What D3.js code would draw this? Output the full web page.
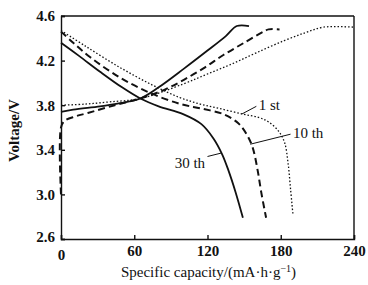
<!DOCTYPE html>
<html>
<head>
<meta charset="utf-8">
<script src="https://cdn.jsdelivr.net/npm/d3@7"></script>
<style>
body { margin: 0; background: #fff; }
svg text { font-family: "Liberation Serif", "DejaVu Serif", serif; }
</style>
</head>
<body>
<div id="chart"></div>
<script>
var xTicks = [0, 60, 120, 180, 240];
var yTicks = [2.6, 3.0, 3.4, 3.8, 4.2, 4.6];

// [capacity, voltage]
var charge1 = [[0, 3.80], [20, 3.81], [40, 3.83], [65, 3.86], [100, 3.99], [120, 4.08], [140, 4.17], [160, 4.27], [183, 4.38], [200, 4.45], [215, 4.50], [240, 4.50]];
var charge10 = [[0, 3.0], [0, 3.60], [3, 3.66], [12, 3.70], [22, 3.73], [44, 3.80], [65, 3.86], [85, 3.94], [101, 4.03], [118, 4.14], [133, 4.25], [150, 4.36], [166, 4.46], [170, 4.48], [179, 4.48]];
var charge30 = [[0, 3.74], [10, 3.76], [32, 3.79], [50, 3.82], [65, 3.86], [80, 3.96], [101, 4.13], [120, 4.29], [135, 4.42], [144, 4.51], [154, 4.51]];

var disch1 = [[0, 4.47], [20, 4.33], [48, 4.14], [75, 3.98], [97, 3.87], [114, 3.81], [130, 3.77], [149, 3.72], [162, 3.69], [170, 3.65], [178, 3.57], [183, 3.47], [186, 3.28], [188, 3.05], [190, 2.82]];
var disch10 = [[0, 4.46], [10, 4.36], [24, 4.23], [48, 4.05], [73, 3.91], [98, 3.81], [115, 3.77], [133, 3.72], [145, 3.64], [152, 3.54], [157, 3.42], [161, 3.22], [164, 3.02], [168, 2.79]];
var disch30 = [[0, 4.36], [15, 4.24], [32, 4.10], [50, 3.96], [65, 3.86], [80, 3.79], [100, 3.72], [115, 3.63], [125, 3.50], [132, 3.36], [137, 3.22], [143, 3.02], [149, 2.79]];

var series = [
  { name: "1 st", charge: charge1, disch: disch1, dash: "1.5,2", width: 1.3 },
  { name: "10 th", charge: charge10, disch: disch10, dash: "7,4", width: 2 },
  { name: "30 th", charge: charge30, disch: disch30, dash: null, width: 1.8 }
];

var margin = { top: 16, right: 14, bottom: 46, left: 61 },
    width = 368 - margin.left - margin.right,
    height = 285 - margin.top - margin.bottom;

var svg = d3.select("#chart")
    .append("svg")
    .attr("width", 368)
    .attr("height", 285)
    .append("g")
    .attr("transform", "translate(" + margin.left + "," + margin.top + ")");

var x = d3.scaleLinear().domain([0, 240]).range([0, width]);
var y = d3.scaleLinear().domain([2.6, 4.6]).range([height, 0]);

svg.append("g")
    .attr("transform", "translate(0," + height + ")")
    .call(d3.axisBottom(x).tickValues(xTicks).tickSize(-4).tickPadding(6).tickFormat(function(d) { return d; }))
    .call(function(g) {
        g.selectAll("text").style("font-size", "15px").style("font-weight", "bold").attr("fill", "#111");
        g.selectAll("text").filter(function(d) { return d === 0; }).attr("dy", "1.0em");
    });

svg.append("g")
    .call(d3.axisLeft(y).tickValues(yTicks).tickSize(-4).tickPadding(6).tickFormat(d3.format(".1f")))
    .call(function(g) {
        g.selectAll("text").style("font-size", "15px").style("font-weight", "bold").attr("fill", "#111");
        g.selectAll("text").filter(function(d) { return d === 2.6; }).attr("dy", "0.15em");
    });

svg.selectAll(".domain, .tick line").attr("stroke", "#111").attr("stroke-width", 1.4);

// top and right frame
svg.append("line").attr("x1", 0).attr("x2", width).attr("y1", 0).attr("y2", 0)
    .attr("stroke", "#111").attr("stroke-width", 1.6);
svg.append("line").attr("x1", width).attr("x2", width).attr("y1", 0).attr("y2", height)
    .attr("stroke", "#111").attr("stroke-width", 1.4);

var line = d3.line()
    .x(function(d) { return x(d[0]); })
    .y(function(d) { return y(d[1]); })
    .curve(d3.curveCatmullRom);

series.forEach(function(s) {
    [s.charge, s.disch].forEach(function(pts) {
        svg.append("path")
            .datum(pts)
            .attr("d", line)
            .attr("fill", "none")
            .attr("stroke", "#111")
            .attr("stroke-width", s.width)
            .attr("stroke-dasharray", s.dash);
    });
});

// labels with leader lines
var labels = [
    { text: "1 st", at: [148, 3.72], to: [160, 3.79], tx: 162, ty: 3.76 },
    { text: "10 th", at: [155, 3.45], to: [188, 3.54], tx: 190, ty: 3.51 },
    { text: "30 th", at: [131, 3.37], to: [120, 3.34], tx: 118, ty: 3.24 }
];
labels.forEach(function(l) {
    svg.append("line")
        .attr("x1", x(l.at[0])).attr("y1", y(l.at[1]))
        .attr("x2", x(l.to[0])).attr("y2", y(l.to[1]))
        .attr("stroke", "#111").attr("stroke-width", 1);
    svg.append("text")
        .attr("x", x(l.tx)).attr("y", y(l.ty))
        .attr("text-anchor", l.text === "30 th" ? "end" : "start")
        .style("font-size", "15px")
        .attr("fill", "#111")
        .text(l.text);
});

svg.append("text")
    .attr("x", width / 2 + 1)
    .attr("y", height + 38)
    .attr("text-anchor", "middle")
    .style("font-size", "15px")
    .attr("fill", "#111")
    .html("Specific capacity/(mA\u00b7h\u00b7g<tspan dy='-5' font-size='10'>\u22121</tspan><tspan dy='5'>)</tspan>");

svg.append("text")
    .attr("transform", "translate(-42," + (height / 2 + 3) + ") rotate(-90)")
    .attr("text-anchor", "middle")
    .style("font-size", "15px")
    .style("font-weight", "bold")
    .attr("fill", "#111")
    .text("Voltage/V");
</script>
</body>
</html>
